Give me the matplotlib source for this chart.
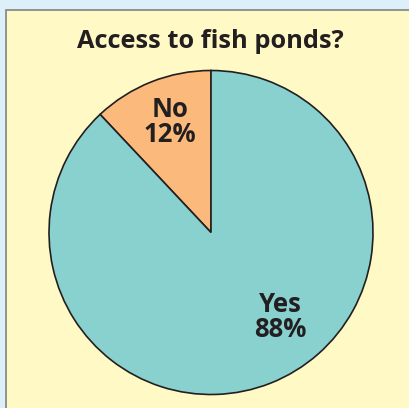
import matplotlib.pyplot as plt
from matplotlib.patches import Rectangle

labels = ["No", "Yes"]
shares = [12, 88]
colors = ["#FBBA7C", "#88D1CF"]
title = "Access to fish ponds?"

fig = plt.figure(figsize=(4.1, 4.08), dpi=100)
fig.patch.set_facecolor("#DDF0FA")
ax = fig.add_axes([0, 0, 1, 1])

# yellow panel with gray border
ax.add_patch(Rectangle((6, -10), 420, 408, facecolor="#FFF9C5",
                       edgecolor="#8A8A8A", linewidth=1.3, zorder=0))

ax.pie(shares, colors=colors, startangle=90, counterclock=True,
       center=(211, 175.5), radius=162, frame=True,
       wedgeprops=dict(edgecolor="#231F20", linewidth=1.2))
ax.set_xlim(0, 410)
ax.set_ylim(0, 408)
ax.set_aspect("auto")
ax.axis("off")

font = ["Open Sans", "DejaVu Sans"]
ax.text(210, 367, title, ha="center", va="center", fontsize=18.3,
        fontweight="bold", color="#231F20", family=font)
ax.text(170, 286, f"{labels[0]}\n{shares[0]}%", ha="center", va="center",
        fontsize=18.5, fontweight="bold", color="#231F20", family=font,
        linespacing=0.95)
ax.text(280.5, 91, f"{labels[1]}\n{shares[1]}%", ha="center", va="center",
        fontsize=18.5, fontweight="bold", color="#231F20", family=font,
        linespacing=0.95)

fig.savefig("out.png", dpi=100, facecolor=fig.get_facecolor())
